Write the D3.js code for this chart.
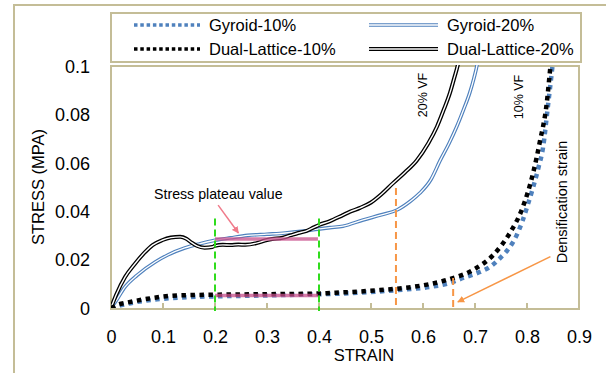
<!DOCTYPE html>
<html>
<head>
<meta charset="utf-8">
<script src="https://cdn.jsdelivr.net/npm/d3@7"></script>
<style>
  body { margin: 0; background: #fff; }
  svg { display: block; font-family: "Liberation Sans", Arial, sans-serif; }
</style>
</head>
<body>
<svg id="chart" width="606" height="373"></svg>
<script>
// Gyroid-10% (blue dotted)
const strainG10 = [0, 0.02, 0.05, 0.1, 0.15, 0.2, 0.3, 0.4, 0.45, 0.5, 0.55, 0.613, 0.65, 0.677, 0.705, 0.729, 0.75, 0.767, 0.78, 0.792, 0.802, 0.812, 0.822, 0.831, 0.84, 0.848, 0.852];
const stressG10 = [0, 0.0012, 0.0025, 0.0038, 0.0045, 0.0048, 0.0052, 0.0057, 0.006, 0.0066, 0.0074, 0.0087, 0.0102, 0.0124, 0.0145, 0.017, 0.021, 0.0252, 0.030, 0.0364, 0.043, 0.050, 0.058, 0.0665, 0.083, 0.098, 0.106];

// Gyroid-20% (blue double line)
const strainG20 = [0, 0.01, 0.027, 0.05, 0.085, 0.11, 0.142, 0.17, 0.2, 0.23, 0.263, 0.3, 0.335, 0.37, 0.398, 0.421, 0.446, 0.485, 0.52, 0.55, 0.575, 0.594, 0.615, 0.633, 0.65, 0.665, 0.678, 0.69, 0.698, 0.704, 0.708];
const stressG20 = [0, 0.003, 0.0087, 0.0135, 0.019, 0.022, 0.0248, 0.0265, 0.028, 0.029, 0.030, 0.0305, 0.031, 0.0318, 0.0326, 0.0332, 0.0338, 0.0364, 0.0385, 0.0405, 0.044, 0.0475, 0.053, 0.061, 0.068, 0.075, 0.082, 0.089, 0.095, 0.1005, 0.106];

// Dual-Lattice-10% (black dotted)
const strainDL10 = [0, 0.015, 0.03, 0.07, 0.127, 0.2, 0.3, 0.4, 0.421, 0.517, 0.58, 0.646, 0.696, 0.735, 0.767, 0.792, 0.812, 0.825, 0.838, 0.844, 0.848];
const stressDL10 = [0, 0.0015, 0.0022, 0.0038, 0.0052, 0.0055, 0.0057, 0.006, 0.0062, 0.0074, 0.0087, 0.0116, 0.0157, 0.0219, 0.031, 0.0417, 0.056, 0.069, 0.0847, 0.0975, 0.106];

// Dual-Lattice-20% (black double line)
const strainDL20 = [0, 0.01, 0.027, 0.045, 0.065, 0.08, 0.098, 0.115, 0.133, 0.145, 0.155, 0.165, 0.18, 0.195, 0.2, 0.215, 0.23, 0.245, 0.258, 0.28, 0.296, 0.31, 0.33, 0.345, 0.36, 0.375, 0.39, 0.4, 0.42, 0.446, 0.46, 0.479, 0.5, 0.52, 0.542, 0.565, 0.588, 0.61, 0.627, 0.64, 0.652, 0.66, 0.667, 0.672];
const stressDL20 = [0, 0.0055, 0.0128, 0.018, 0.023, 0.026, 0.028, 0.0291, 0.0294, 0.0286, 0.027, 0.0257, 0.0249, 0.0252, 0.0257, 0.0261, 0.026, 0.0262, 0.0261, 0.0268, 0.0279, 0.0285, 0.029, 0.030, 0.031, 0.0318, 0.0333, 0.0343, 0.0358, 0.0384, 0.0398, 0.0414, 0.0436, 0.047, 0.0515, 0.056, 0.061, 0.068, 0.075, 0.082, 0.089, 0.095, 0.1005, 0.106];

const xTicks = [0, 0.1, 0.2, 0.3, 0.4, 0.5, 0.6, 0.7, 0.8, 0.9];
const yTicks = [0, 0.02, 0.04, 0.06, 0.08, 0.1];

const legendNames = ["Gyroid-10%", "Gyroid-20%", "Dual-Lattice-10%", "Dual-Lattice-20%"];

// plateau region and densification marks
const plateauStrain = [0.2, 0.398];
const plateauStress20 = 0.0285;
const plateauStress10 = 0.0052;
const plateauTop = 0.037;
const densStrain = [0.548, 0.658];
const densTop = [0.0496, 0.0124];

const tan = "#c4bd97";
const blue = "#4f81bd";

let svg = d3.select("#chart");

// outer frame
svg.append("rect")
  .attr("x", 14).attr("y", 5)
  .attr("width", 700).attr("height", 500)
  .attr("fill", "none").attr("stroke", tan).attr("stroke-width", 2);

let plotLeft = 111, plotRight = 579, plotTop = 66, plotBottom = 308;

let x = d3.scaleLinear().domain([0, 0.9]).range([plotLeft, plotRight]);
let y = d3.scaleLinear().domain([0, 0.1]).range([plotBottom, plotTop]);

let defs = svg.append("defs");
defs.append("clipPath").attr("id", "clip")
  .append("rect")
  .attr("x", plotLeft).attr("y", plotTop - 1)
  .attr("width", plotRight - plotLeft).attr("height", plotBottom - plotTop + 1);

// plot border
svg.append("rect")
  .attr("x", plotLeft).attr("y", plotTop)
  .attr("width", plotRight - plotLeft).attr("height", plotBottom - plotTop + 1)
  .attr("fill", "none").attr("stroke", tan).attr("stroke-width", 2);

// x ticks (inward) and labels
let xAxis = d3.axisBottom(x).tickValues(xTicks).tickSize(0).tickFormat(d3.format("~g"));
let xg = svg.append("g").attr("transform", "translate(0," + (plotBottom + 1) + ")").call(xAxis);
xg.select(".domain").remove();
xg.selectAll("text")
  .attr("y", 28).attr("dy", "0.32em")
  .attr("font-size", "18px").attr("fill", "#000")
  .attr("font-family", "Liberation Sans, Arial, sans-serif");

svg.append("g").selectAll("line")
  .data(xTicks.slice(1, -1))
  .enter()
  .append("line")
  .attr("x1", d => x(d)).attr("x2", d => x(d))
  .attr("y1", plotBottom).attr("y2", plotBottom - 5)
  .attr("stroke", tan).attr("stroke-width", 2);

// y labels
let yAxis = d3.axisLeft(y).tickValues(yTicks).tickSize(0).tickFormat(d3.format("~g"));
let yg = svg.append("g").attr("transform", "translate(" + plotLeft + ",0)").call(yAxis);
yg.select(".domain").remove();
yg.selectAll("text")
  .attr("x", -21).attr("dy", "0.35em")
  .attr("font-size", "18px").attr("fill", "#000")
  .attr("font-family", "Liberation Sans, Arial, sans-serif");

// axis titles
svg.append("text")
  .attr("x", 364).attr("y", 361)
  .attr("text-anchor", "middle")
  .attr("font-size", "16.5px")
  .text("STRAIN");

svg.append("text")
  .attr("transform", "translate(44,187) rotate(-90)")
  .attr("text-anchor", "middle")
  .attr("font-size", "16.5px")
  .text("STRESS (MPA)");

let line = d3.line()
  .x(d => x(d[0]))
  .y(d => y(d[1]))
  .curve(d3.curveMonotoneX);

let plot = svg.append("g").attr("clip-path", "url(#clip)");

function pairs(xs, ys){
  return xs.map((v, i) => [v, ys[i]]);
}

// Gyroid-20% double line
plot.append("path").attr("d", line(pairs(strainG20, stressG20)))
  .attr("fill", "none").attr("stroke", blue).attr("stroke-width", 3.6);
plot.append("path").attr("d", line(pairs(strainG20, stressG20)))
  .attr("fill", "none").attr("stroke", "#fff").attr("stroke-width", 1.3);

// Dual-Lattice-20% double line
plot.append("path").attr("d", line(pairs(strainDL20, stressDL20)))
  .attr("fill", "none").attr("stroke", "#000").attr("stroke-width", 4);
plot.append("path").attr("d", line(pairs(strainDL20, stressDL20)))
  .attr("fill", "none").attr("stroke", "#fff").attr("stroke-width", 1.4);

// Gyroid-10% dotted
plot.append("path").attr("d", line(pairs(strainG10, stressG10)))
  .attr("fill", "none").attr("stroke", blue).attr("stroke-width", 4.5)
  .attr("stroke-dasharray", "4.5,4.5");

// Dual-Lattice-10% dotted
plot.append("path").attr("d", line(pairs(strainDL10, stressDL10)))
  .attr("fill", "none").attr("stroke", "#000").attr("stroke-width", 4.5)
  .attr("stroke-dasharray", "4.5,4.5");

// plateau value bars
let pink = "#c8508c";
[plateauStress20, plateauStress10].forEach(function(v){
  plot.append("line")
    .attr("x1", x(plateauStrain[0])).attr("x2", x(plateauStrain[1]))
    .attr("y1", y(v)).attr("y2", y(v))
    .attr("stroke", pink).attr("stroke-width", 3.5).attr("opacity", 0.75);
});

// green dashed lines for plateau range
svg.append("g").selectAll("line")
  .data([0.2, 0.4])
  .enter()
  .append("line")
  .attr("x1", d => x(d)).attr("x2", d => x(d))
  .attr("y1", y(plateauTop)).attr("y2", plotBottom + 3)
  .attr("stroke", "#2fdc1c").attr("stroke-width", 2)
  .attr("stroke-dasharray", "7,4");

// orange dashed densification lines
svg.append("g").selectAll("line")
  .data(densStrain)
  .enter()
  .append("line")
  .attr("x1", d => x(d)).attr("x2", d => x(d))
  .attr("y1", (d, i) => y(densTop[i])).attr("y2", plotBottom)
  .attr("stroke", "#f79646").attr("stroke-width", 2)
  .attr("stroke-dasharray", "7,4");

// arrows
function marker(id, color){
  defs.append("marker")
    .attr("id", id)
    .attr("viewBox", "0 0 10 10")
    .attr("refX", 9).attr("refY", 5)
    .attr("markerWidth", 7).attr("markerHeight", 7)
    .attr("markerUnits", "userSpaceOnUse")
    .attr("orient", "auto")
    .append("path")
    .attr("d", "M0,0 L10,5 L0,10 z")
    .attr("fill", color);
}
marker("arrPink", "#f07a8a");
marker("arrOrange", "#f79646");

// stress plateau arrow
svg.append("line")
  .attr("x1", x(0.206)).attr("y1", y(0.0425))
  .attr("x2", x(0.245)).attr("y2", y(0.031))
  .attr("stroke", "#f07a8a").attr("stroke-width", 1.5)
  .attr("marker-end", "url(#arrPink)");

// densification arrow
svg.append("line")
  .attr("x1", x(0.845)).attr("y1", y(0.0212))
  .attr("x2", x(0.667)).attr("y2", y(0.0025))
  .attr("stroke", "#f79646").attr("stroke-width", 1.5)
  .attr("marker-end", "url(#arrOrange)");

// annotation texts
svg.append("text")
  .attr("x", 154).attr("y", 199)
  .attr("font-size", "14.2px")
  .text("Stress plateau value");

svg.append("text")
  .attr("transform", "translate(567,202) rotate(-90)")
  .attr("text-anchor", "middle")
  .attr("font-size", "14.5px")
  .text("Densification strain");

svg.append("text")
  .attr("transform", "translate(427,95) rotate(-90)")
  .attr("text-anchor", "middle")
  .attr("font-size", "12.5px")
  .text("20% VF");

svg.append("text")
  .attr("transform", "translate(523,97) rotate(-90)")
  .attr("text-anchor", "middle")
  .attr("font-size", "12.5px")
  .text("10% VF");

// legend
let lg = svg.append("g");
lg.append("rect")
  .attr("x", 111).attr("y", 13)
  .attr("width", 470).attr("height", 49)
  .attr("fill", "#fff").attr("stroke", tan).attr("stroke-width", 2);

let legendPos = [[134, 25], [369, 25], [134, 49], [369, 49]];
let legendStyle = [
  {color: blue, dotted: true},
  {color: blue, dotted: false},
  {color: "#000", dotted: true},
  {color: "#000", dotted: false}
];

legendNames.forEach(function(name, i){
  let p = legendPos[i];
  let s = legendStyle[i];
  let len = i % 2 == 0 ? 66 : 69;
  if(s.dotted){
    lg.append("line")
      .attr("x1", p[0]).attr("x2", p[0] + len)
      .attr("y1", p[1]).attr("y2", p[1])
      .attr("stroke", s.color).attr("stroke-width", 3.5)
      .attr("stroke-dasharray", "3.5,2.8");
  }
  else{
    lg.append("line")
      .attr("x1", p[0]).attr("x2", p[0] + len)
      .attr("y1", p[1]).attr("y2", p[1])
      .attr("stroke", s.color).attr("stroke-width", i == 1 ? 3.6 : 4.2);
    lg.append("line")
      .attr("x1", p[0]).attr("x2", p[0] + len)
      .attr("y1", p[1]).attr("y2", p[1])
      .attr("stroke", "#fff").attr("stroke-width", 1.3);
  }
  lg.append("text")
    .attr("x", p[0] + len + 9).attr("y", p[1])
    .attr("dy", "0.35em")
    .attr("font-size", "16.5px")
    .text(name);
});
</script>
</body>
</html>
